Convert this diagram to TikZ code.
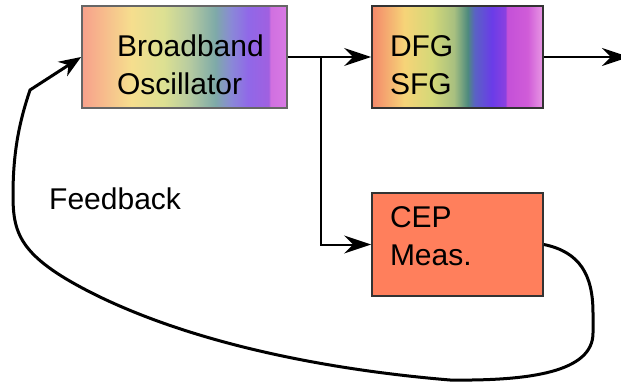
\documentclass[tikz,border=0pt]{standalone}
\usepackage{fontspec}
\setmainfont{Liberation Sans}
\usetikzlibrary{arrows.meta}

\definecolor{osca}{HTML}{F7A08B}
\definecolor{oscb}{HTML}{F6DE8E}
\definecolor{oscc}{HTML}{DCE092}
\definecolor{oscd}{HTML}{B8CCA0}
\definecolor{osce}{HTML}{7EAAA8}
\definecolor{oscf}{HTML}{8A88D8}
\definecolor{oscg}{HTML}{9068E8}
\definecolor{osch}{HTML}{A060E0}
\definecolor{osci}{HTML}{D070E0}
\definecolor{oscj}{HTML}{D87AE4}

\definecolor{dfga}{HTML}{F4886A}
\definecolor{dfgb}{HTML}{F6D478}
\definecolor{dfgc}{HTML}{D4D878}
\definecolor{dfgd}{HTML}{A8C080}
\definecolor{dfge}{HTML}{4E8A7E}
\definecolor{dfgf}{HTML}{5A62C4}
\definecolor{dfgg}{HTML}{6A3CE8}
\definecolor{dfgh}{HTML}{8A40E0}
\definecolor{dfgi}{HTML}{C450D8}
\definecolor{dfgj}{HTML}{D05CD8}
\definecolor{dfgk}{HTML}{E898E4}

\definecolor{cepfill}{HTML}{FF7F5C}

\pgfdeclarehorizontalshading{oscshade}{100bp}{color(0bp)=(osca); color(25bp)=(osca);
  color(37bp)=(oscb); color(45bp)=(oscc); color(51bp)=(oscd); color(57.5bp)=(osce);
  color(61.5bp)=(oscf); color(65.5bp)=(oscg); color(70.5bp)=(osch); color(71bp)=(osci);
  color(75bp)=(oscj); color(100bp)=(oscj)}
\pgfdeclarehorizontalshading{dfgshade}{100bp}{color(0bp)=(dfga); color(25bp)=(dfga);
  color(34.5bp)=(dfgb); color(42.5bp)=(dfgc); color(49bp)=(dfgd); color(53bp)=(dfge);
  color(55bp)=(dfgf); color(60bp)=(dfgg); color(64bp)=(dfgh); color(64.5bp)=(dfgi);
  color(70.5bp)=(dfgj); color(75bp)=(dfgk); color(100bp)=(dfgk)}

\begin{document}
\begin{tikzpicture}[x=1pt,y=-1pt,
    font=\fontsize{30pt}{38pt}\selectfont,
    box/.style={rectangle, draw=black!80, line width=1.8pt, align=left,
        inner ysep=0pt, minimum width=171pt},
    arr/.style={line width=2pt, -{Stealth[length=27pt,width=18pt,inset=9pt]}},
    fb/.style={line width=3pt, -{Stealth[length=22pt,width=17pt,inset=7pt]}}]
    \useasboundingbox (0,0) rectangle (621,382);
    \node[box, draw=black!60, shading=oscshade, inner xsep=35pt, text width=135pt,
        minimum width=205pt, text height=51pt, text depth=51pt] (osc) at (184.5,57)
        {Broadband\\Oscillator};
    \node[box, shading=dfgshade, inner xsep=18pt, text width=135pt,
        text height=51pt, text depth=51pt] (dfg) at (457.5,57) {DFG\\SFG};
    \node[box, fill=cepfill, inner xsep=18pt, text width=135pt,
        text height=34pt, text depth=69pt] (cep) at (457.5,244.5) {CEP\\Meas.};
    \node[anchor=base west, inner sep=0pt] (fbtext) at (49,210) {Feedback};
    \coordinate (split) at (320.5,57);
    \coordinate (out) at (629,57);
    \coordinate (kink) at (30,90);
    \draw[arr] (osc.east) -- (dfg.west);
    \draw[arr] (dfg.east) -- (out);
    \draw[arr] (split) |- (cep.west);
    % feedback loop back to the oscillator
    \draw[fb] (cep.east) .. controls (580,252) and (593,275) .. (593,313)
        -- (593,333) .. controls (593,372) and (530,381) .. (450,380)
        .. controls (330,370) and (200,345) .. (100,297)
        .. controls (20,258) and (13,235) .. (13,195)
        .. controls (13,150) and (20,120) .. (kink) -- (osc.west);
\end{tikzpicture}
\end{document}
